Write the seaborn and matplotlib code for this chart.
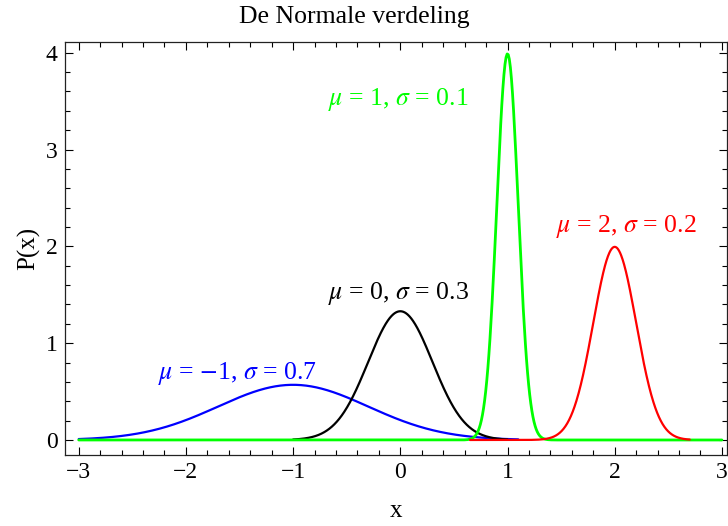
import numpy as np
import pandas as pd
import matplotlib
matplotlib.use("Agg")
import matplotlib.pyplot as plt
from matplotlib.ticker import MultipleLocator
import seaborn as sns

# --- Data: parameters of each curve, as printed on the chart ---
names = ["blue", "black", "green", "red"]
mus = [-1, 0, 1, 2]
sigmas = [0.7, 0.3, 0.1, 0.2]
x_starts = [-3.0, -1.0, -3.0, 0.65]
x_ends = [1.1, 1.0, 3.0, 2.7]
label_texts = [r"$\mu$ = $-$1, $\sigma$ = 0.7",
               r"$\mu$ = 0, $\sigma$ = 0.3",
               r"$\mu$ = 1, $\sigma$ = 0.1",
               r"$\mu$ = 2, $\sigma$ = 0.2"]
label_x = [-1.52, -0.02, -0.02, 2.11]
label_y = [0.69, 1.51, 3.52, 2.21]
colors = ["#0000FF", "#000000", "#00FF00", "#FF0000"]

# build a long table with one row per sample point
frames = []
for name, mu, sd, x0, x1 in zip(names, mus, sigmas, x_starts, x_ends):
    xs = np.linspace(x0, x1, 600)
    ys = np.exp(-0.5 * ((xs - mu) / sd) ** 2) / (sd * np.sqrt(2 * np.pi))
    frames.append(pd.DataFrame({"x": xs, "P": ys, "curve": name}))
df = pd.concat(frames, ignore_index=True)

sns.set_theme(style="ticks")
plt.rcParams["font.family"] = ["Liberation Serif", "DejaVu Serif"]
plt.rcParams["mathtext.fontset"] = "stix"
plt.rcParams["text.color"] = "black"
plt.rcParams["axes.labelcolor"] = "black"
plt.rcParams["xtick.color"] = "black"
plt.rcParams["ytick.color"] = "black"

fig = plt.figure(figsize=(7.28, 5.26), dpi=100)
ax = fig.add_axes([0.089, 0.135, 0.910, 0.785])

widths = {"blue": 1.6, "black": 1.6, "green": 2.0, "red": 1.6}
for name, color in zip(names, colors):
    sns.lineplot(data=df[df["curve"] == name], x="x", y="P", color=color,
                 linewidth=widths[name], ax=ax, legend=False)

for txt, lx, ly, color in zip(label_texts, label_x, label_y, colors):
    ax.text(lx, ly, txt, color=color, fontsize=18.5, ha="center", va="center")

ax.set_xlim(-3.13, 3.05)
ax.set_ylim(-0.155, 4.11)
ax.xaxis.set_minor_locator(MultipleLocator(0.2))
ax.yaxis.set_minor_locator(MultipleLocator(0.2))
ax.set_xticks(range(-3, 4))
ax.set_xticklabels(["\u22123", "\u22122", "\u22121", "0", "1", "2", "3"])
ax.set_yticks(range(0, 5))
ax.tick_params(which="both", direction="in", top=True, right=True,
               labelsize=17, width=0.8)
ax.tick_params(which="major", length=6, pad=5)
ax.tick_params(which="minor", length=3.5)
for sp in ax.spines.values():
    sp.set_linewidth(0.9)
    sp.set_color("#222222")

fig.text(354 / 728, 1 - 17 / 526, "De Normale verdeling", fontsize=18.5,
         ha="center", va="center")
ax.set_xlabel("x", fontsize=18, labelpad=12)
ax.set_ylabel("P(x)", fontsize=18, labelpad=4)

fig.savefig("out.png", dpi=100)
